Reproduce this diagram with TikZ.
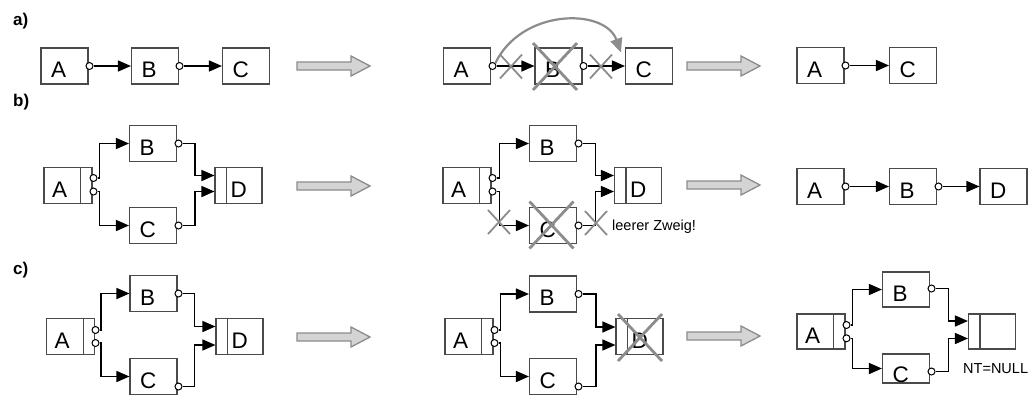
\documentclass[tikz,border=0pt]{standalone}
\usepackage{fontspec}
\setmainfont{Liberation Sans}
\usetikzlibrary{arrows.meta}
\definecolor{boxc}{HTML}{4A4A4A}
\definecolor{xgray}{HTML}{8C8C8C}
\definecolor{arrfill}{HTML}{D4D4D4}
\definecolor{arrdraw}{HTML}{8C8C8C}
\begin{document}
\begin{tikzpicture}[x=1pt,y=-1pt,
  box/.style={draw=boxc, line width=1.1pt, inner ysep=0pt, inner xsep=10pt, text width=27pt, align=left, text height=29.5pt, text depth=6.5pt, font=\fontsize{22.5}{24}\selectfont},
  boxl/.style={box, inner xsep=8pt, text width=32pt},
  boxr/.style={box, inner xsep=15.5pt, text width=16pt},
  port/.style={circle, draw=black, fill=white, line width=1pt, inner sep=0pt, minimum size=7pt},
  conn/.style={draw=black, line width=1.5pt, -{Triangle[length=13pt,width=11pt]}},
  divl/.style={draw=boxc, line width=1.1pt},
  lab/.style={font=\bfseries\fontsize{17}{19}\selectfont, anchor=west, inner sep=0pt},
  note/.style={font=\fontsize{14.5}{16}\selectfont, anchor=west, inner sep=0pt},
  smallx/.pic={\draw[xgray, line width=1.8pt] (-11,-12) -- (11,12) (-11,12) -- (11,-12);},
  bigx/.pic={\draw[xgray, line width=2.8pt] (-22,-23.5) -- (22,23.5) (-22,23.5) -- (22,-23.5);},
  bigarr/.pic={\draw[arrdraw, fill=arrfill, line width=1.3pt, line join=miter] (0,-4) -- (54,-4) -- (54,-10) -- (73,0) -- (54,10) -- (54,4) -- (0,4) -- cycle;}
]
\fill[white] (0,0) rectangle (1032,394);
\useasboundingbox (0,0) rectangle (1032,394);

% ---------------- row a ----------------
\node[lab] (la) at (13,21.5) {a)};
\node[box] (a1A) at (64.5,66) {A};
\node[box] (a1B) at (155,66) {B};
\node[box] (a1C) at (246,66) {C};
\node[port] (a1pA) at (89.5,66) {};
\node[port] (a1pB) at (179.5,66) {};
\draw[conn] (a1pA) -- (a1B);
\draw[conn] (a1pB) -- (a1C);
\pic at (297,66) {bigarr};

\node[box] (a2A) at (467,66) {A};
\node[box] (a2B) at (558.5,66) {B};
\node[box] (a2C) at (649,66) {C};
\node[port] (a2pA) at (492.5,66) {};
\node[port] (a2pB) at (583.5,66) {};
\draw[conn] (a2pA) -- (a2B);
\draw[conn] (a2pB) -- (a2C);
\pic at (511,66.5) {smallx};
\pic at (601,66.5) {smallx};
\pic at (555,66.5) {bigx};
\coordinate (a2end) at ([xshift=-4pt,yshift=-5pt]a2C.north west);
\draw[xgray, line width=2.2pt, -{Triangle[length=14pt,width=12pt]}] (a2pA.north east) .. controls (522,8) and (605,8) .. (a2end);
\pic at (687,66) {bigarr};

\node[box] (a3A) at (820.5,65.5) {A};
\node[box] (a3C) at (913,65.5) {C};
\node[port] (a3pA) at (845.5,65.5) {};
\draw[conn] (a3pA) -- (a3C);

% ---------------- row b ----------------
\node[lab] (lb) at (13,102) {b)};
\node[boxl] (b1A) at (68,185.5) {A};
\node[box] (b1B) at (153,143.5) {B};
\node[box] (b1C) at (153,225.5) {C};
\node[boxr] (b1D) at (238.5,185.5) {D};
\draw[divl] ([xshift=-12pt]b1A.north east) -- ([xshift=-12pt]b1A.south east);
\draw[divl] ([xshift=12pt]b1D.north west) -- ([xshift=12pt]b1D.south west);
\node[port] (b1pA1) at (93.5,178) {};
\node[port] (b1pA2) at (93.5,191.5) {};
\node[port] (b1pB) at (178.5,143.5) {};
\node[port] (b1pC) at (178.5,225.5) {};
\draw[conn] (b1pA1.east) -- ++(2,0) |- (b1B.west);
\draw[conn] (b1pA2.east) -- ++(2,0) |- (b1C.west);
\draw[conn] (b1pB.east) -- ++(12.5,0) |- ([yshift=10pt]b1D.west);
\draw[conn] (b1pC.east) -- ++(12.5,0) |- ([yshift=-6pt]b1D.west);
\pic at (297,186) {bigarr};

\node[boxl] (b2A) at (467,185.5) {A};
\node[box] (b2B) at (553,143.5) {B};
\node[box] (b2C) at (553,225.5) {C};
\node[boxr] (b2D) at (638,185.5) {D};
\draw[divl] ([xshift=-12pt]b2A.north east) -- ([xshift=-12pt]b2A.south east);
\draw[divl] ([xshift=12pt]b2D.north west) -- ([xshift=12pt]b2D.south west);
\node[port] (b2pA1) at (492.5,178) {};
\node[port] (b2pA2) at (492.5,191.5) {};
\node[port] (b2pB) at (578.5,143.5) {};
\node[port] (b2pC) at (578.5,225.5) {};
\draw[conn] (b2pA1.east) -- ++(3,0) |- (b2B.west);
\draw[conn] (b2pA2.east) -- ++(3,0) |- (b2C.west);
\draw[conn] (b2pB.east) -- ++(13,0) |- ([yshift=10pt]b2D.west);
\draw[conn] (b2pC.east) -- ++(13,0) |- ([yshift=-6pt]b2D.west);
\pic at (499,222) {smallx};
\pic at (596,223) {smallx};
\pic at (551.5,225) {bigx};
\node[note] (nb) at (612,227) {leerer Zweig!};
\pic at (687,185) {bigarr};

\node[box] (b3A) at (820.5,186.5) {A};
\node[box] (b3B) at (913,186.5) {B};
\node[box] (b3D) at (1003.5,186.5) {D};
\node[port] (b3pA) at (845.5,186.5) {};
\node[port] (b3pB) at (938.5,186.5) {};
\draw[conn] (b3pA) -- (b3B);
\draw[conn] (b3pB) -- (b3D);

% ---------------- row c ----------------
\node[lab] (lc) at (13,270) {c)};
\node[boxl] (c1A) at (70.5,336.5) {A};
\node[box] (c1B) at (153.5,293.5) {B};
\node[box] (c1C) at (153.5,376.5) {C};
\node[boxr] (c1D) at (239.5,336.5) {D};
\draw[divl] ([xshift=-12pt]c1A.north east) -- ([xshift=-12pt]c1A.south east);
\draw[divl] ([xshift=12pt]c1D.north west) -- ([xshift=12pt]c1D.south west);
\node[port] (c1pA1) at (95.5,330) {};
\node[port] (c1pA2) at (95.5,343) {};
\node[port] (c1pB) at (178.5,293.5) {};
\node[port] (c1pC) at (178.5,386.5) {};
\draw[conn] (c1pA1.east) -- ++(1.25,0) |- (c1B.west);
\draw[conn] (c1pA2.east) -- ++(1.25,0) |- (c1C.west);
\draw[conn] (c1pB.east) -- ++(12,0) |- ([yshift=10pt]c1D.west);
\draw[conn] (c1pC.east) -- ++(12,0) |- ([yshift=-8.5pt]c1D.west);
\pic at (297,337) {bigarr};

\node[boxl] (c2A) at (469,336.5) {A};
\node[box] (c2B) at (553,294) {B};
\node[box] (c2C) at (553,376.5) {C};
\node[boxr] (c2D) at (639.5,336.5) {D};
\draw[divl] ([xshift=-12pt]c2A.north east) -- ([xshift=-12pt]c2A.south east);
\draw[divl] ([xshift=12pt]c2D.north west) -- ([xshift=12pt]c2D.south west);
\node[port] (c2pA1) at (494.5,330) {};
\node[port] (c2pA2) at (494.5,343) {};
\node[port] (c2pB) at (578.5,294) {};
\node[port] (c2pC) at (578.5,386.5) {};
\draw[conn] (c2pA1.east) -- ++(2,0) |- (c2B.west);
\draw[conn] (c2pA2.east) -- ++(2,0) |- (c2C.west);
\draw[conn] (c2pB.east) -- ++(13.5,0) |- ([yshift=9.5pt]c2D.west);
\draw[conn] (c2pC.east) -- ++(13.5,0) |- ([yshift=-8.5pt]c2D.west);
\pic at (640,337.5) {bigx};
\pic at (687,336) {bigarr};

\node[boxl, text height=29pt, text depth=6pt] (c3A) at (821,331.5) {A};
\node[box, text height=29pt, text depth=6pt] (c3B) at (906,289.5) {B};
\node[box, text height=28pt, text depth=1pt] (c3C) at (906,368.5) {C};
\node[boxr, text height=29pt, text depth=6pt] (c3D) at (992,331.5) {};
\draw[divl] ([xshift=-12pt]c3A.north east) -- ([xshift=-12pt]c3A.south east);
\draw[divl] ([xshift=12pt]c3D.north west) -- ([xshift=12pt]c3D.south west);
\node[port] (c3pA1) at (846.5,325) {};
\node[port] (c3pA2) at (846.5,338.3) {};
\node[port] (c3pB) at (931.5,288.5) {};
\node[port] (c3pC) at (931.5,371.5) {};
\draw[conn] (c3pA1.east) -- ++(1.75,0) |- (c3B.west);
\draw[conn] (c3pA2.east) -- ++(1.75,0) |- (c3C.west);
\draw[conn] (c3pB.east) -- ++(13,0) |- ([yshift=10.5pt]c3D.west);
\draw[conn] (c3pC.east) -- ++(13,0) |- ([yshift=-7pt]c3D.west);
\node[note] (nc) at (963,369) {NT=NULL};
\end{tikzpicture}
\end{document}
